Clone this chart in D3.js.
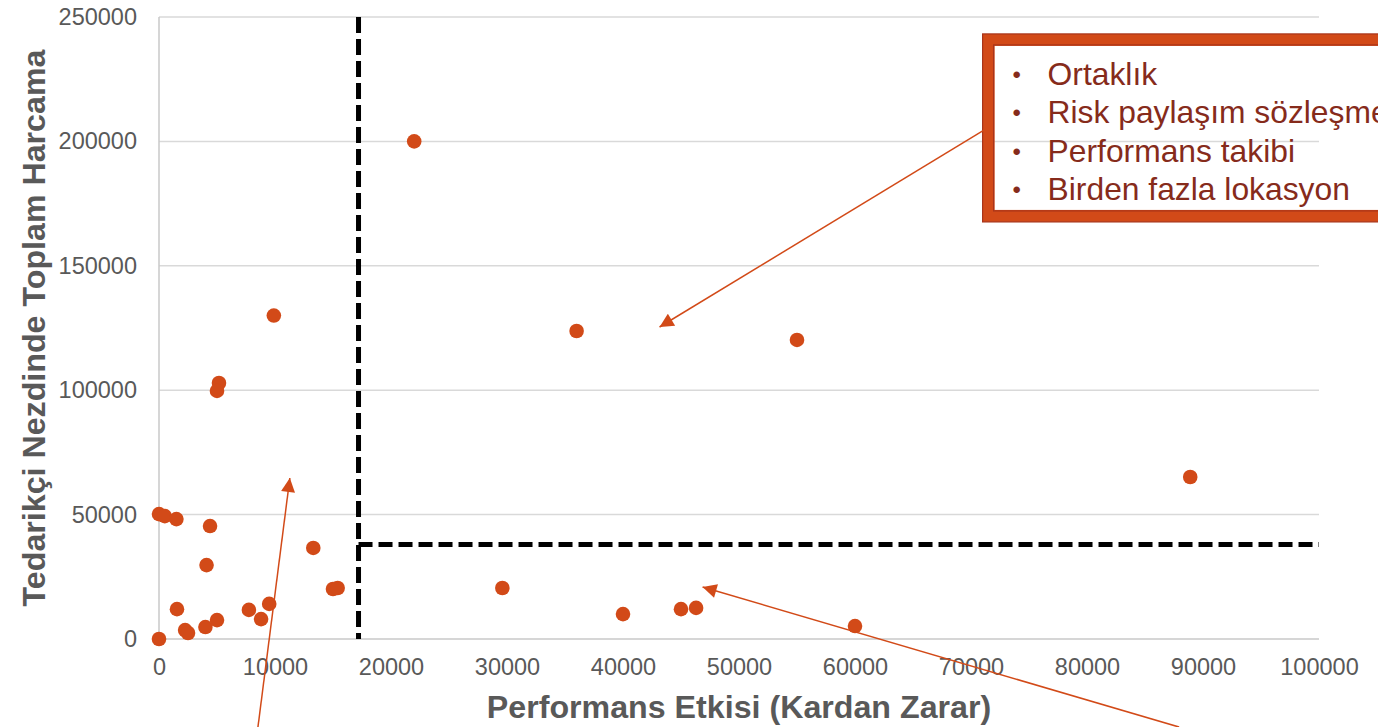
<!DOCTYPE html>
<html><head><meta charset="utf-8">
<script src="https://cdn.jsdelivr.net/npm/d3@7"></script>
<style>html,body{margin:0;padding:0;background:#fff;overflow:hidden}svg{display:block}</style>
</head><body>
<svg id="c" width="1378" height="727"></svg>
<script>
const xTicks = [0,10000,20000,30000,40000,50000,60000,70000,80000,90000,100000];
const yTicks = [0,50000,100000,150000,200000,250000];
const xVals = [0,0,500,1500,4400,4100,1550,2250,2500,4000,5000,7750,8800,9500,13300,15000,15400,9900,5170,5000,22000,36000,55000,88900,29600,40000,45000,46300,60000];
const yVals = [0,50200,49400,48200,45400,29700,12000,3600,2400,4800,7600,11700,8000,14100,36600,20100,20500,130000,102900,99700,200000,123800,120200,65100,20500,10000,12000,12500,5200];
const thresholdX = 17200;
const thresholdY = 38000;
const bullets = ["Ortaklık","Risk paylaşım sözleşmeleri","Performans takibi","Birden fazla lokasyon"];
const arrows = [
  {from:[71150,204600], to:[43150,125400]},
  {from:[8530,-35400], to:[11280,64700]},
  {from:[87940,-35400], to:[46860,20900]}
];
const xTitle = "Performans Etkisi (Kardan Zarar)";
const yTitle = "Tedarikçi Nezdinde Toplam Harcama";

const svg = d3.select("#c");
const x = d3.scaleLinear().domain([0,100000]).range([159,1319]);
const y = d3.scaleLinear().domain([0,250000]).range([639,17]);
const orange = "#d24a18";
const font = "'Liberation Sans', Arial, sans-serif";

// gridlines
svg.append("g").selectAll("line").data(yTicks.filter(d=>d>0)).join("line")
  .attr("x1",x(0)).attr("x2",x(100000)).attr("y1",d=>y(d)).attr("y2",d=>y(d))
  .attr("stroke","#d9d9d9").attr("stroke-width",1.5);
// axis lines
svg.append("line").attr("x1",x(0)).attr("x2",x(0)).attr("y1",y(250000)).attr("y2",y(0)).attr("stroke","#c8c8c8").attr("stroke-width",1.5);
svg.append("line").attr("x1",x(0)).attr("x2",x(100000)).attr("y1",y(0)).attr("y2",y(0)).attr("stroke","#c8c8c8").attr("stroke-width",1.5);

// tick labels via axes
const xAxis = svg.append("g").attr("transform",`translate(0,${y(0)})`)
  .call(d3.axisBottom(x).tickValues(xTicks).tickFormat(d3.format("d")).tickSize(0).tickPadding(19));
const yAxis = svg.append("g").attr("transform",`translate(${x(0)},0)`)
  .call(d3.axisLeft(y).tickValues(yTicks).tickFormat(d3.format("d")).tickSize(0).tickPadding(22));
[xAxis,yAxis].forEach(g=>{
  g.select(".domain").remove();
  g.selectAll("text").attr("fill","#595959").style("font-family",font).style("font-size","23.5px");
});

// dashed threshold lines
svg.append("line").attr("x1",x(thresholdX)).attr("x2",x(thresholdX)).attr("y1",y(250000)).attr("y2",y(0))
  .attr("stroke","#000").attr("stroke-width",5).attr("stroke-dasharray","16,6");
svg.append("line").attr("x1",x(thresholdX)).attr("x2",x(100000)).attr("y1",y(thresholdY)).attr("y2",y(thresholdY))
  .attr("stroke","#000").attr("stroke-width",5).attr("stroke-dasharray","14,6");

// points
svg.append("g").selectAll("circle").data(xVals.map((v,i)=>[v,yVals[i]])).join("circle")
  .attr("cx",d=>x(d[0])).attr("cy",d=>y(d[1])).attr("r",7.3).attr("fill",orange);

// legend box
const bx = x(71000), by = y(243200);
const bw = 420, bh = 188;
svg.append("rect").attr("x",bx+6).attr("y",by+6).attr("width",bw).attr("height",bh-12)
  .attr("fill","none").attr("stroke",orange).attr("stroke-width",12);
svg.append("rect").attr("x",bx).attr("y",by).attr("width",bw+12).attr("height",bh)
  .attr("fill","none").attr("stroke","#a8341a").attr("stroke-width",1.2);
svg.append("rect").attr("x",bx+11).attr("y",by+11).attr("width",bw).attr("height",bh-22)
  .attr("fill","none").attr("stroke","#a8341a").attr("stroke-width",1.2);
const lg = svg.append("g");
bullets.forEach((t,i)=>{
  const yy = by + 51 + i*38.5;
  lg.append("text").attr("x",bx+30).attr("y",yy-2).text("•").attr("fill","#862b1b")
    .style("font-family",font).style("font-size","24px");
  lg.append("text").attr("x",bx+65).attr("y",yy).text(t).attr("fill","#862b1b")
    .style("font-family",font).style("font-size","31.8px");
});

// arrows
const defs = svg.append("defs");
defs.append("marker").attr("id","ah").attr("viewBox","0 0 10 10").attr("refX",10).attr("refY",5)
  .attr("markerWidth",18).attr("markerHeight",14).attr("markerUnits","userSpaceOnUse").attr("orient","auto")
  .append("path").attr("d","M0,0L10,5L0,10Z").attr("fill",orange);
svg.append("g").selectAll("line").data(arrows).join("line")
  .attr("x1",d=>x(d.from[0])).attr("y1",d=>y(d.from[1])).attr("x2",d=>x(d.to[0])).attr("y2",d=>y(d.to[1]))
  .attr("stroke",orange).attr("stroke-width",1.5).attr("marker-end","url(#ah)");

// titles
svg.append("text").attr("x",(x(0)+x(100000))/2).attr("y",718).attr("text-anchor","middle")
  .text(xTitle).attr("fill","#595959").style("font-family",font).style("font-size","32.2px").style("font-weight","bold");
svg.append("text").attr("transform",`translate(45,${(y(0)+y(250000))/2}) rotate(-90)`).attr("text-anchor","middle")
  .text(yTitle).attr("fill","#595959").style("font-family",font).style("font-size","32.2px").style("font-weight","bold");
</script>
</body></html>
